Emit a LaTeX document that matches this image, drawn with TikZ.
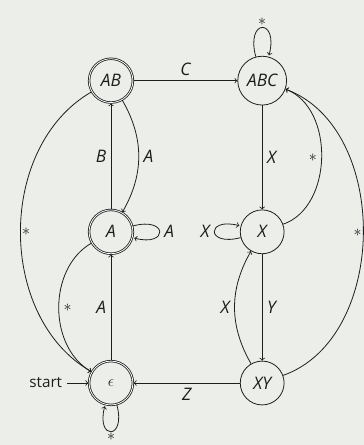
\documentclass[tikz,border=0pt]{standalone}
\usepackage{fontspec}
\setmainfont{Open Sans}
\usetikzlibrary{automata,positioning}
\definecolor{bgc}{RGB}{236,238,234}
\definecolor{ink}{RGB}{30,30,30}

\begin{document}
\begin{tikzpicture}[node distance=4cm, on grid, auto, >=to, semithick, draw=ink, text=ink,
		font=\fontsize{13}{15}\selectfont\itshape,
		every state/.style={draw=ink, minimum size=33pt, inner sep=4.5pt},
		initial text={\upshape\fontsize{11.5}{14}\selectfont start}]
		\useasboundingbox[fill=bgc] (-2.937,-1.640) rectangle (6.694,10.134);

		% States
		\node[state, initial, accepting] (eps) {$\epsilon$};
		\node[state, accepting, above=of eps] (a) {A};
		\node[state, accepting, above=of a] (ab) {AB};
		\node[state, right=of ab] (abc) {ABC};
		\node[state, below=of abc] (x) {X};
		\node[state, below=of x] (xy) {XY};

		% Transitions
		\path[->, ink]
			(ab) edge node {C} (abc)
			     edge[bend left=30] node {A} (a)
			     edge[bend right=60] node[inner sep=1pt] {$\ast$} (eps)
			(abc) edge[loop above] node[inner sep=1pt] {$\ast$} ()
			      edge node {X} (x)
			(a) edge node {B} (ab)
			    edge[loop right] node {A} ()
			    edge[bend right=60] node {$\ast$} (eps)
			(x) edge[loop left] node {X} ()
			    edge node {Y} (xy)
			    edge[bend right=70] node {$\ast$} (abc)
			(xy) edge node {Z} (eps)
			     edge[bend left=30] node {X} (x)
			     edge[bend right=70] node[inner sep=1pt] {$\ast$} (abc)
			(eps) edge node {A} (a)
			      edge[loop below, every loop/.append style={min distance=6.5mm}] node[inner sep=0.5pt] {$\ast$} ();
	\end{tikzpicture}
\end{document}
